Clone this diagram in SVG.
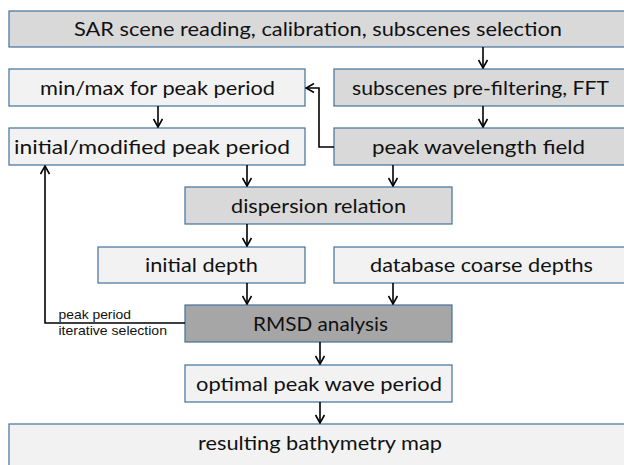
<svg xmlns="http://www.w3.org/2000/svg" width="624" height="465" viewBox="0 0 624 465">
<defs>
<marker id="ah" viewBox="0 0 10 10" refX="9" refY="5" markerWidth="10" markerHeight="10" markerUnits="userSpaceOnUse" orient="auto">
<path d="M1,0.5 L9,5 L1,9.5" fill="none" stroke="#000" stroke-width="1.6"/>
</marker>
<style>
.b{stroke:#41719c;stroke-width:1.2}
.l{fill:#f2f2f2}
.m{fill:#d9d9d9}
.d{fill:#a6a6a6}
.t{font-family:Lato,"Open Sans","Liberation Sans",sans-serif;font-size:19px;fill:#111;text-anchor:middle}
.s{font-family:"Liberation Sans",Arial,sans-serif;font-size:13px;fill:#111}
.c{fill:none;stroke:#000;stroke-width:1.6;marker-end:url(#ah)}
</style>
</defs>
<g id="scene"><rect class="b m" x="9" y="11" width="625" height="36"/><text class="t" x="318" y="36" textLength="488" lengthAdjust="spacingAndGlyphs">SAR scene reading, calibration, subscenes selection</text></g>
<g id="minmax"><rect class="b l" x="9" y="69" width="296" height="37"/><text class="t" x="157.5" y="94.5" textLength="235" lengthAdjust="spacingAndGlyphs">min/max for peak period</text></g>
<g id="subscenes"><rect class="b m" x="334" y="69" width="300" height="37"/><text class="t" x="480.5" y="94.5" textLength="257" lengthAdjust="spacingAndGlyphs">subscenes pre-filtering, FFT</text></g>
<g id="initmod"><rect class="b l" x="9" y="128" width="296" height="37"/><text class="t" x="152" y="153.5" textLength="276" lengthAdjust="spacingAndGlyphs">initial/modified peak period</text></g>
<g id="peakwl"><rect class="b m" x="334" y="128" width="300" height="37"/><text class="t" x="478.5" y="153.5" textLength="213" lengthAdjust="spacingAndGlyphs">peak wavelength field</text></g>
<g id="dispersion"><rect class="b m" x="185" y="187" width="267" height="37"/><text class="t" x="318.5" y="212.5" textLength="175" lengthAdjust="spacingAndGlyphs">dispersion relation</text></g>
<g id="initdepth"><rect class="b l" x="98" y="247" width="207" height="36"/><text class="t" x="201.5" y="272" textLength="113" lengthAdjust="spacingAndGlyphs">initial depth</text></g>
<g id="database"><rect class="b l" x="334" y="247" width="300" height="36"/><text class="t" x="481.5" y="272" textLength="223" lengthAdjust="spacingAndGlyphs">database coarse depths</text></g>
<g id="rmsd"><rect class="b d" x="185" y="305" width="267" height="37"/><text class="t" x="320.5" y="330.5" textLength="135" lengthAdjust="spacingAndGlyphs">RMSD analysis</text></g>
<g id="optimal"><rect class="b l" x="185" y="365" width="267" height="37"/><text class="t" x="319" y="390.5" textLength="246" lengthAdjust="spacingAndGlyphs">optimal peak wave period</text></g>
<g id="result"><rect class="b l" x="9" y="424" width="625" height="50"/><text class="t" x="320" y="450" textLength="244" lengthAdjust="spacingAndGlyphs">resulting bathymetry map</text></g>
<g id="connectors">
<path class="c" d="M483,47 V68"/>
<path class="c" d="M483,106 V127"/>
<path class="c" d="M158,106 V127"/>
<path class="c" d="M247,165 V186"/>
<path class="c" d="M393,165 V186"/>
<path class="c" d="M247,224 V246"/>
<path class="c" d="M247,283 V304"/>
<path class="c" d="M393,283 V304"/>
<path class="c" d="M320,342 V364"/>
<path class="c" d="M320,402 V423"/>
<path class="c" d="M334,147 H319 V88 H306"/>
<path class="c" d="M185,323 H45 V166"/>
<text class="s" x="58.5" y="319" textLength="72.5" lengthAdjust="spacingAndGlyphs">peak period</text>
<text class="s" x="58.5" y="335" textLength="108.5" lengthAdjust="spacingAndGlyphs">iterative selection</text>
</g>
</svg>
